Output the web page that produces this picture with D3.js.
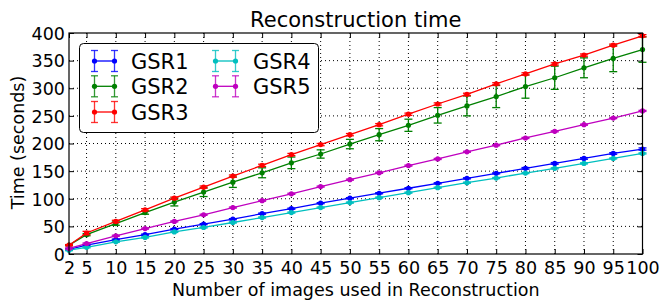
<!DOCTYPE html>
<html>
<head>
<meta charset="utf-8">
<script src="https://cdn.jsdelivr.net/npm/d3@7"></script>
<style>
  body { margin: 0; background: #fff; }
  svg { display: block; font-family: "DejaVu Sans", sans-serif; }
</style>
</head>
<body>
<div id="chart"></div>
<script>
const xValues = [2, 5, 10, 15, 20, 25, 30, 35, 40, 45, 50, 55, 60, 65, 70, 75, 80, 85, 90, 95, 100];
const yTicks = [0, 50, 100, 150, 200, 250, 300, 350, 400];

const gsr1 = [8.5, 16, 26, 35, 45, 54, 63, 73, 82, 92, 101, 110, 119, 128, 137, 146, 155, 164, 173, 182, 190];
const gsr1Err = [1, 1, 1, 1, 1, 1, 1, 1, 1, 1, 1, 1, 1, 1, 1, 1, 1.5, 1.5, 1.5, 1.5, 2];
const gsr2 = [16, 35, 55, 75, 94, 112, 130, 147, 165, 181, 199, 216, 233, 251, 268, 285, 303, 319, 337, 354, 370];
const gsr2Err = [1, 2, 3, 3, 7, 8, 9.5, 9, 10.5, 7.5, 8.5, 11, 11, 14, 18, 20, 21, 21, 18, 24, 23];
const gsr3 = [16, 38, 59, 80, 101, 121, 141, 160.5, 180, 198, 216, 234, 253, 271.5, 289, 308, 326, 344, 360, 378, 395];
const gsr3Err = [1, 3, 2, 2, 2, 2, 2, 2, 2, 2, 2, 2, 2, 2, 2, 2, 2, 2, 2, 2, 2];
const gsr4 = [7, 12, 22, 30, 40, 48, 57, 66, 75, 84, 93, 102, 111, 120, 129, 137.5, 146.5, 155, 164, 173, 182];
const gsr4Err = [1, 1, 1, 1, 1, 1, 1, 1, 1, 1, 1, 1, 1, 1, 1, 1, 1, 1, 1, 1, 1];
const gsr5 = [10, 19, 33, 46, 59, 71, 84, 96.5, 109, 122, 134.5, 147, 160, 172, 185, 197, 210, 222, 234, 246, 259];
const gsr5Err = [1, 1, 1, 1, 1, 1, 1, 1, 1, 1, 1, 1, 1, 1, 1, 1, 1, 1, 1, 1, 1];

const seriesNames = ['GSR1', 'GSR2', 'GSR3', 'GSR4', 'GSR5'];
const seriesColors = ['#0000ff', '#008000', '#ff0000', '#00bfbf', '#bf00bf'];

const series = [
  { name: seriesNames[0], color: seriesColors[0], values: gsr1, errs: gsr1Err },
  { name: seriesNames[1], color: seriesColors[1], values: gsr2, errs: gsr2Err },
  { name: seriesNames[2], color: seriesColors[2], values: gsr3, errs: gsr3Err },
  { name: seriesNames[3], color: seriesColors[3], values: gsr4, errs: gsr4Err },
  { name: seriesNames[4], color: seriesColors[4], values: gsr5, errs: gsr5Err },
];

const width = 661;
const height = 301;
const area = { left: 69, right: 642.5, top: 33, bottom: 254 };

const svg = d3.select('#chart')
  .append('svg')
  .attr('width', width)
  .attr('height', height);

const x = d3.scaleLinear().domain([2, 100]).range([area.left, area.right]);
const y = d3.scaleLinear().domain([0, 400]).range([area.bottom, area.top]);

// dotted grid
const grid = svg.append('g').attr('class', 'grid');
grid.selectAll('line.gx')
  .data(xValues.slice(1, -1))
  .join('line')
  .attr('x1', d => x(d)).attr('x2', d => x(d))
  .attr('y1', area.top).attr('y2', area.bottom)
  .attr('stroke', '#000').attr('stroke-width', 1)
  .attr('stroke-dasharray', '1,3');
grid.selectAll('line.gy')
  .data(yTicks.slice(1, -1))
  .join('line')
  .attr('x1', area.left).attr('x2', area.right)
  .attr('y1', d => y(d)).attr('y2', d => y(d))
  .attr('stroke', '#000').attr('stroke-width', 1)
  .attr('stroke-dasharray', '1,3');

// axes: ticks inside on all four sides
const tickLen = 5;
const fontTick = 17.5;

const xBottom = d3.axisBottom(x).tickValues(xValues).tickSizeInner(-tickLen).tickSizeOuter(0).tickPadding(10);
const xTop = d3.axisTop(x).tickValues(xValues).tickSizeInner(-tickLen).tickSizeOuter(0).tickFormat('');
const yLeft = d3.axisLeft(y).tickValues(yTicks).tickSizeInner(-tickLen).tickSizeOuter(0).tickPadding(6);
const yRight = d3.axisRight(y).tickValues(yTicks).tickSizeInner(-tickLen).tickSizeOuter(0).tickFormat('');

function styleAxis(g) {
  g.select('.domain').remove();
  g.selectAll('.tick line').attr('stroke', '#000').attr('stroke-width', 1);
  g.selectAll('.tick text')
    .attr('fill', '#000')
    .style('font-family', '"DejaVu Sans", sans-serif')
    .style('font-size', fontTick + 'px');
}

svg.append('g').attr('transform', `translate(0,${area.bottom})`).call(xBottom).call(styleAxis)
  .selectAll('.tick text').attr('dy', null).attr('y', 20);
svg.append('g').attr('transform', `translate(0,${area.top})`).call(xTop).call(styleAxis);
svg.append('g').attr('transform', `translate(${area.left},0)`).call(yLeft).call(styleAxis)
  .selectAll('.tick text').attr('dy', '0.36em').attr('x', -4);
svg.append('g').attr('transform', `translate(${area.right},0)`).call(yRight).call(styleAxis);

// series
const line = d3.line().x((d, i) => x(xValues[i])).y(d => y(d));
const capHalf = 4;

series.forEach(s => {
  const g = svg.append('g').attr('class', 'series');
  g.append('path')
    .datum(s.values)
    .attr('d', line)
    .attr('fill', 'none')
    .attr('stroke', s.color)
    .attr('stroke-width', 1.3);

  const pts = s.values.map((v, i) => ({ x: xValues[i], v, e: s.errs[i] }));
  g.selectAll('line.err')
    .data(pts).join('line')
    .attr('x1', d => x(d.x)).attr('x2', d => x(d.x))
    .attr('y1', d => y(d.v - d.e)).attr('y2', d => y(d.v + d.e))
    .attr('stroke', s.color).attr('stroke-width', 1.3);
  g.selectAll('line.capTop')
    .data(pts).join('line')
    .attr('x1', d => x(d.x) - capHalf).attr('x2', d => x(d.x) + capHalf)
    .attr('y1', d => y(d.v + d.e)).attr('y2', d => y(d.v + d.e))
    .attr('stroke', s.color).attr('stroke-width', 1.3);
  g.selectAll('line.capBot')
    .data(pts).join('line')
    .attr('x1', d => x(d.x) - capHalf).attr('x2', d => x(d.x) + capHalf)
    .attr('y1', d => y(d.v - d.e)).attr('y2', d => y(d.v - d.e))
    .attr('stroke', s.color).attr('stroke-width', 1.3);
  g.selectAll('circle')
    .data(pts).join('circle')
    .attr('cx', d => x(d.x)).attr('cy', d => y(d.v))
    .attr('r', 2.6)
    .attr('fill', s.color);
});

// frame
svg.append('rect')
  .attr('x', area.left).attr('y', area.top)
  .attr('width', area.right - area.left).attr('height', area.bottom - area.top)
  .attr('fill', 'none').attr('stroke', '#000').attr('stroke-width', 1.2);

// legend
const legend = svg.append('g').attr('class', 'legend');
legend.append('rect')
  .attr('x', 79.5).attr('y', 43.5).attr('width', 239).attr('height', 89)
  .attr('rx', 4).attr('fill', '#fff').attr('stroke', '#000').attr('stroke-width', 1);

const colX = [94.5, 215.5];
const rowY = [61, 86.3, 112];
series.forEach((s, i) => {
  const col = i < 3 ? 0 : 1;
  const row = i < 3 ? i : i - 3;
  const x0 = colX[col];
  const x1 = x0 + 20;
  const cy = rowY[row];
  const h = legend.append('g');
  h.append('line').attr('x1', x0).attr('x2', x1).attr('y1', cy).attr('y2', cy)
    .attr('stroke', s.color).attr('stroke-width', 1.3);
  [x0, x1].forEach(px => {
    h.append('line').attr('x1', px).attr('x2', px).attr('y1', cy - 10.5).attr('y2', cy + 10.5)
      .attr('stroke', s.color).attr('stroke-width', 1.3).attr('stroke-opacity', 0.8);
    h.append('line').attr('x1', px - 3.5).attr('x2', px + 3.5).attr('y1', cy - 10.5).attr('y2', cy - 10.5)
      .attr('stroke', s.color).attr('stroke-width', 1.3).attr('stroke-opacity', 0.8);
    h.append('line').attr('x1', px - 3.5).attr('x2', px + 3.5).attr('y1', cy + 10.5).attr('y2', cy + 10.5)
      .attr('stroke', s.color).attr('stroke-width', 1.3).attr('stroke-opacity', 0.8);
    h.append('circle').attr('cx', px).attr('cy', cy).attr('r', 2.6).attr('fill', s.color);
  });
  h.append('text')
    .attr('x', col === 0 ? 131 : 253).attr('y', cy + 7.5)
    .style('font-size', '21px').attr('fill', '#000')
    .text(s.name);
});

// title and labels
svg.append('text')
  .attr('x', (area.left + area.right) / 2).attr('y', 26.5)
  .attr('text-anchor', 'middle')
  .style('font-size', '21px')
  .text('Reconstruction time');

svg.append('text')
  .attr('x', (area.left + area.right) / 2).attr('y', 296)
  .attr('text-anchor', 'middle')
  .style('font-size', '17.5px')
  .text('Number of images used in Reconstruction');

svg.append('text')
  .attr('transform', `translate(23.5,142.5) rotate(-90)`)
  .attr('text-anchor', 'middle')
  .style('font-size', '17.5px')
  .text('Time (seconds)');
</script>
</body>
</html>
